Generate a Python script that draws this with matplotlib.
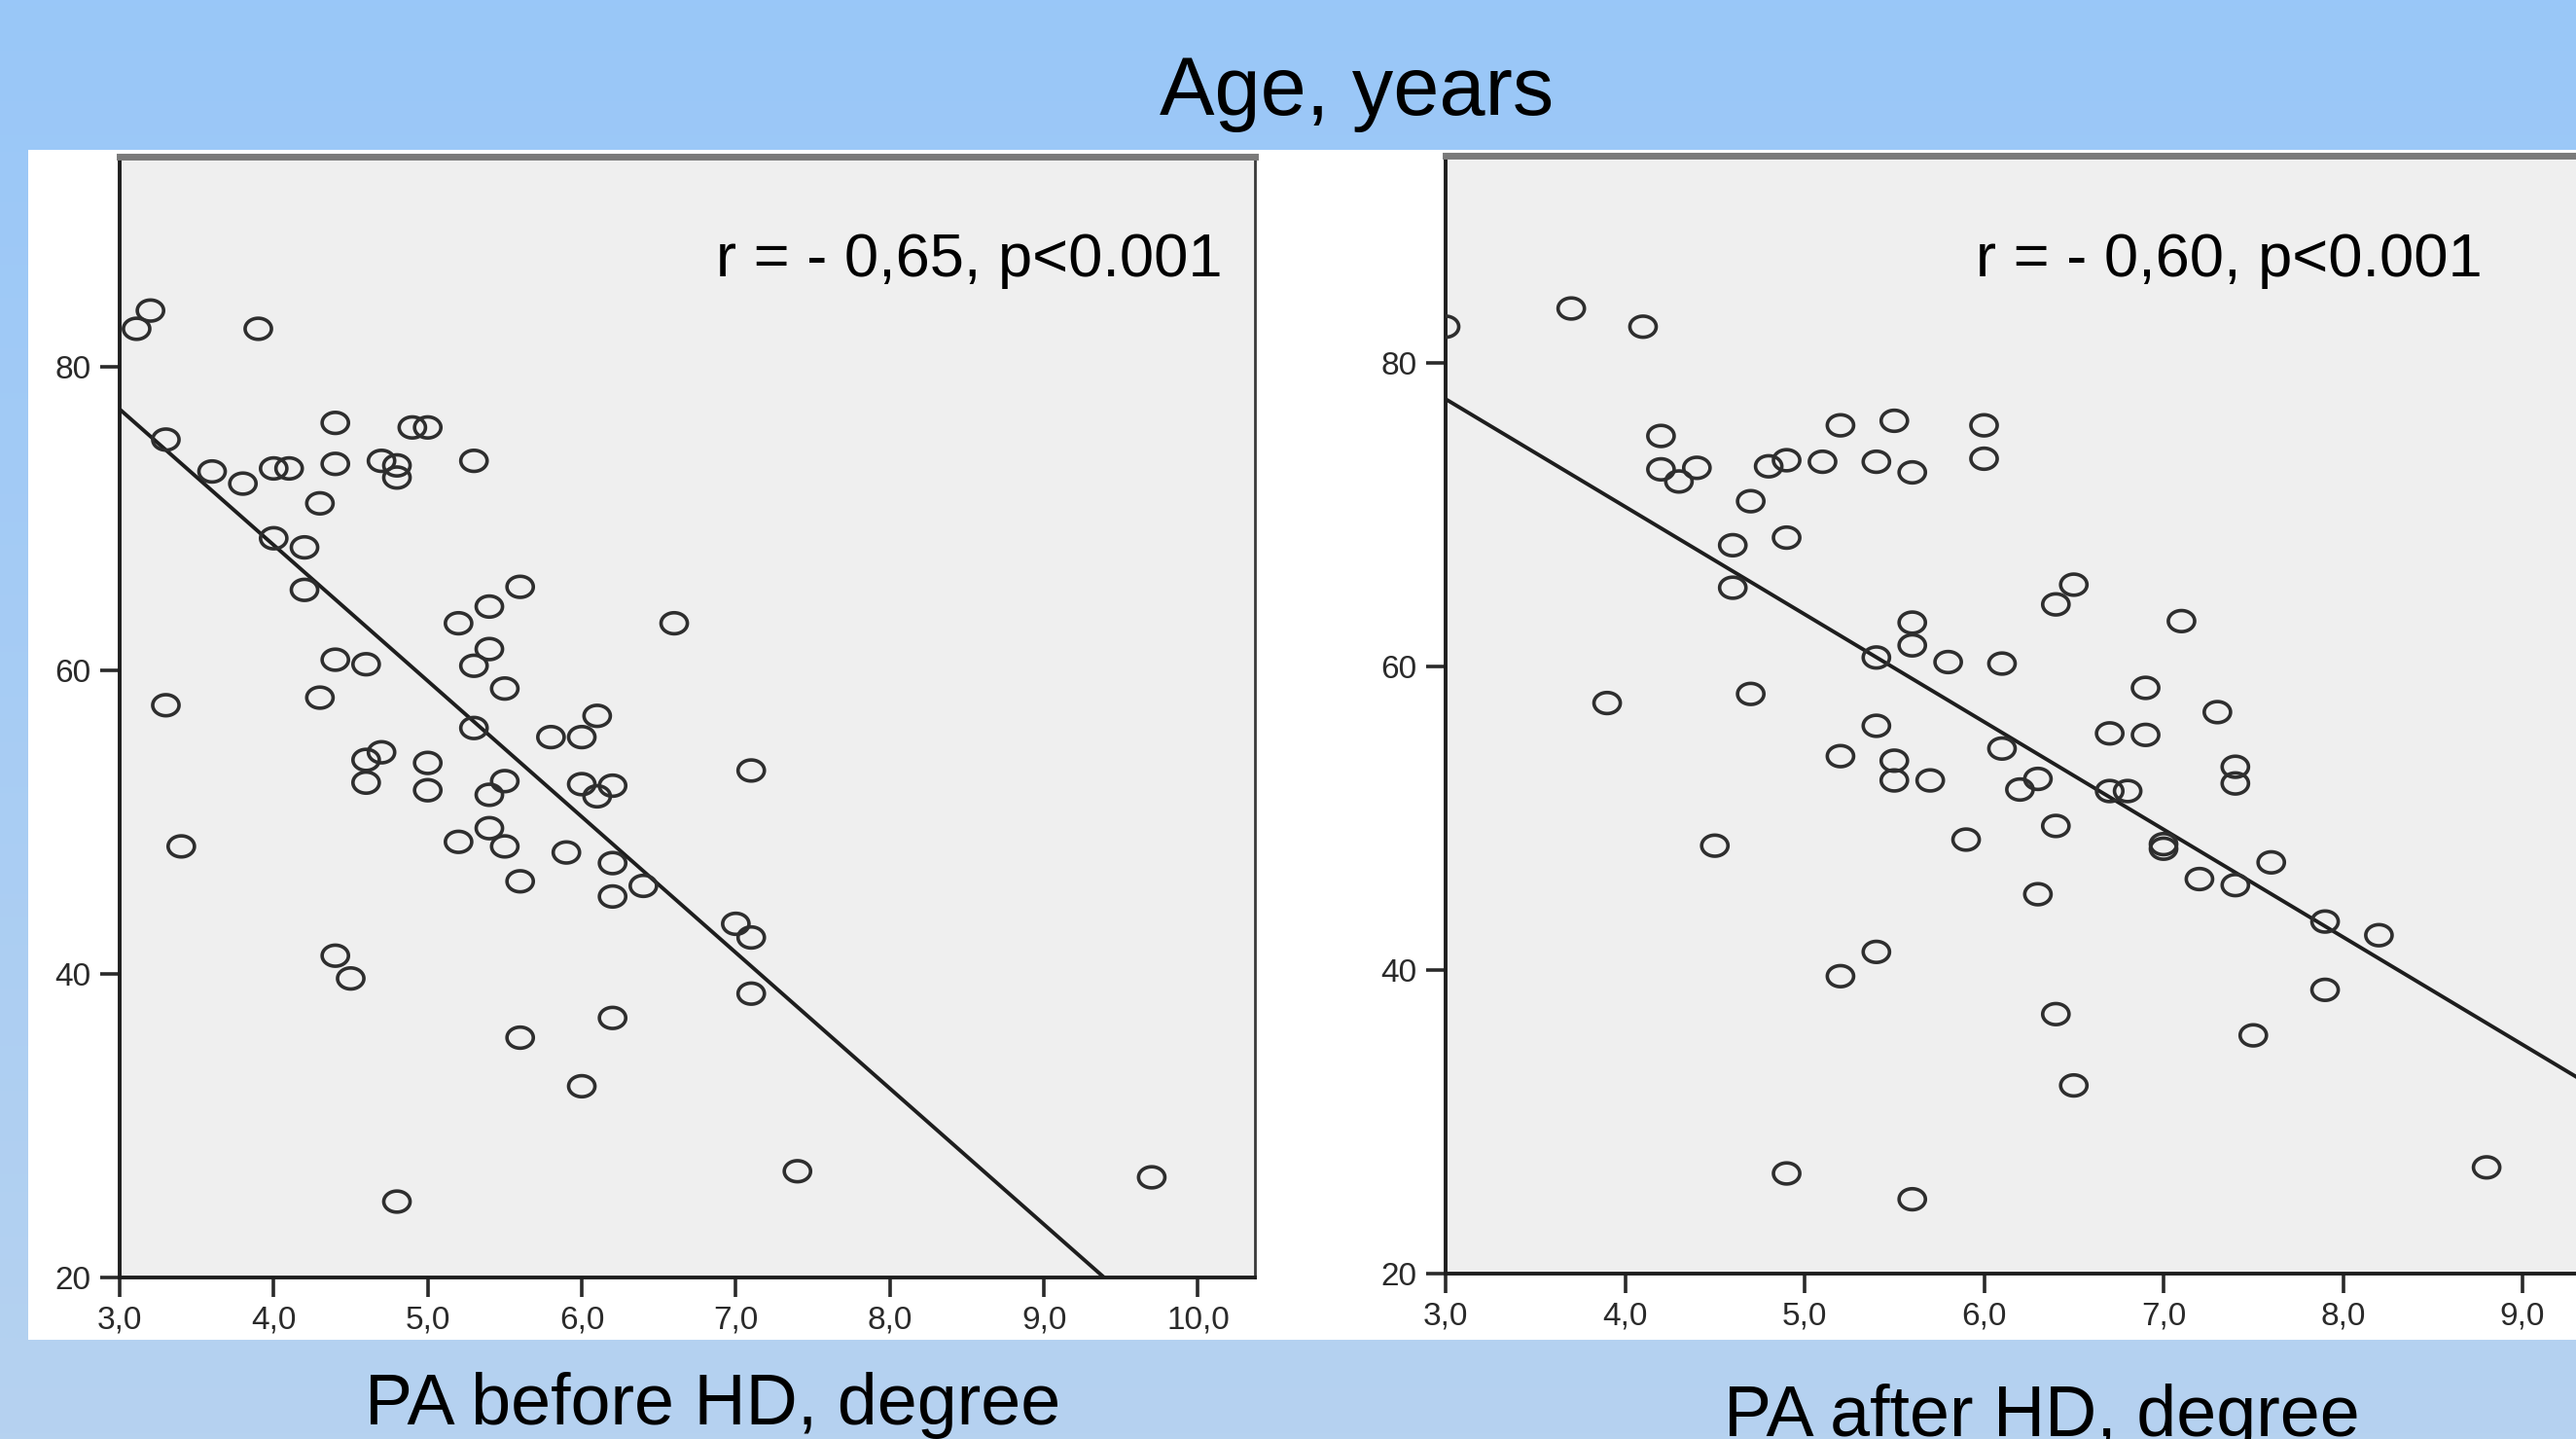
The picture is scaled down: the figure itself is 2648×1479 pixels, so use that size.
import numpy as np
import matplotlib
matplotlib.use("Agg")
import matplotlib.pyplot as plt
from matplotlib.path import Path
from matplotlib.patches import Rectangle

plt.rcParams['font.family'] = ['Liberation Sans', 'DejaVu Sans']

# ---- data ----
pa_before = [3.11, 3.2, 3.9, 3.3, 3.6, 3.8, 4.0, 4.1, 4.4, 4.4, 4.3, 4.7, 4.8, 4.8,
             4.9, 5.0, 5.3, 4.0, 4.2, 4.2, 5.6, 5.4, 5.2, 6.6, 5.4, 5.3, 4.4, 4.6,
             5.5, 4.3, 3.3, 5.3, 5.8, 6.0, 6.1, 4.7, 4.6, 5.0, 4.6, 5.0, 7.1, 5.5,
             5.4, 6.0, 6.2, 6.1, 5.2, 5.4, 5.5, 5.9, 3.4, 6.2, 5.6, 6.4, 6.2, 7.0,
             7.1, 4.4, 4.5, 7.1, 6.2, 5.6, 6.0, 7.4, 9.7, 4.8]
age_before = [82.5, 83.7, 82.5, 75.2, 73.1, 72.3, 73.3, 73.3, 76.3, 73.6, 71.0, 73.8, 73.5, 72.7,
              76.0, 76.0, 73.8, 68.7, 68.1, 65.3, 65.5, 64.2, 63.1, 63.1, 61.4, 60.3, 60.7, 60.4,
              58.8, 58.2, 57.7, 56.2, 55.6, 55.6, 57.0, 54.6, 54.1, 53.9, 52.6, 52.1, 53.4, 52.7,
              51.8, 52.5, 52.4, 51.7, 48.7, 49.6, 48.4, 48.0, 48.4, 47.3, 46.1, 45.8, 45.1, 43.3,
              42.4, 41.2, 39.7, 38.7, 37.1, 35.8, 32.6, 27.0, 26.6, 25.0]

pa_after = [3.0, 3.7, 4.1, 4.2, 4.2, 4.3, 4.4, 4.7, 4.8, 4.9, 5.2, 5.1, 5.4, 5.5,
            5.6, 6.0, 6.0, 4.6, 4.9, 4.6, 6.5, 6.4, 7.1, 5.6, 5.6, 5.4, 5.8, 6.1,
            3.9, 4.7, 6.9, 7.3, 5.4, 6.7, 6.9, 5.2, 6.1, 5.5, 5.5, 5.7, 6.3, 6.2,
            7.4, 7.4, 6.7, 6.8, 6.4, 5.9, 4.5, 7.0, 7.0, 7.6, 7.2, 7.4, 6.3, 7.9,
            8.2, 5.4, 5.2, 7.9, 6.4, 7.5, 6.5, 4.9, 8.8, 5.6]
age_after = [82.4, 83.6, 82.4, 75.2, 73.0, 72.2, 73.1, 70.9, 73.2, 73.6, 75.9, 73.5, 73.5, 76.2,
             72.8, 75.9, 73.7, 68.0, 68.5, 65.2, 65.4, 64.1, 63.0, 62.9, 61.4, 60.6, 60.3, 60.2,
             57.6, 58.2, 58.6, 57.0, 56.1, 55.6, 55.5, 54.1, 54.6, 53.8, 52.5, 52.5, 52.6, 51.9,
             53.4, 52.3, 51.8, 51.8, 49.5, 48.6, 48.2, 48.3, 48.0, 47.1, 46.0, 45.6, 45.0, 43.2,
             42.3, 41.2, 39.6, 38.7, 37.1, 35.7, 32.4, 26.6, 27.0, 24.9]

# regression lines (intercept, slope) as drawn
fit_before = (104.05, -8.95)
fit_after = (98.9, -7.09)

x_ticks_before = [3, 4, 5, 6, 7, 8, 9, 10]
x_ticks_after = [3, 4, 5, 6, 7, 8, 9]
y_ticks = [20, 40, 60, 80]

W, H = 2648, 1479
fig = plt.figure(figsize=(W / 100, H / 100), dpi=100)

# background gradient
bg = fig.add_axes([0, 0, 1, 1], zorder=-10)
top = np.array([153, 199, 248]) / 255
bot = np.array([182, 210, 240]) / 255
t = np.linspace(0, 1, 256)[:, None, None]
grad = top[None, None, :] * (1 - t) + bot[None, None, :] * t
bg.imshow(grad, aspect='auto', extent=[0, 1, 0, 1])
bg.set_axis_off()

# white panel
fig.patches.append(Rectangle((29 / W, 1 - 1377 / H), 1 - 29 / W, (1377 - 154) / H,
                             transform=fig.transFigure, facecolor='white',
                             edgecolor='none', zorder=-5))

# elliptic open marker
th = np.linspace(0, 2 * np.pi, 60)
ell = Path(np.column_stack([np.cos(th), 0.8 * np.sin(th)]), closed=True)


def px_axes(left, top, right, bottom):
    return fig.add_axes([left / W, 1 - bottom / H, (right - left) / W, (bottom - top) / H])


def panel(ax, xs, ys, fit, xlim, ylim, xticks, right_spine=True):
    ax.set_facecolor('#efefef')
    ax.scatter(xs, ys, s=380, marker=ell, facecolors='none', edgecolors='#2e2e2e',
               linewidths=2.6, zorder=3)
    xx = np.array(xlim)
    ax.plot(xx, fit[0] + fit[1] * xx, color='#1e1e1e', lw=2.8, zorder=2)
    ax.set_xlim(*xlim)
    ax.set_ylim(*ylim)
    ax.set_xticks(xticks)
    ax.set_xticklabels([f"{v},0" for v in xticks])
    ax.set_yticks(y_ticks)
    ax.tick_params(direction='out', length=14.5, width=2.6, color='#2a2a2a',
                   labelsize=24, labelcolor='#2a2a2a')
    ax.tick_params(axis='x', pad=6)
    ax.tick_params(axis='y', pad=7)
    for s in ['left', 'bottom']:
        ax.spines[s].set_color('#1e1e1e')
        ax.spines[s].set_linewidth(2.8)
    ax.spines['top'].set_color('#7a7a7a')
    ax.spines['top'].set_linewidth(5)
    if right_spine:
        ax.spines['right'].set_color('#3a3a3a')
        ax.spines['right'].set_linewidth(2.0)
    else:
        ax.spines['right'].set_visible(False)
    return ax


ax1 = px_axes(123, 161, 1290, 1313)
panel(ax1, pa_before, age_before, fit_before, (3.0, 10.37), (20, 93.84), x_ticks_before)
ax2 = px_axes(1486, 160, 2648, 1309)
panel(ax2, pa_after, age_after, fit_after, (3.0, 9.298), (20, 93.67), x_ticks_after,
      right_spine=False)

fig.text(1257 / W, 1 - 284 / H, 'r = - 0,65, p<0.001', fontsize=45.5,
         ha='right', va='baseline')
fig.text(2552 / W, 1 - 284 / H, 'r = - 0,60, p<0.001', fontsize=45.5,
         ha='right', va='baseline')

fig.text(1395 / W, 1 - 118 / H, 'Age, years', fontsize=61, ha='center', va='baseline')
fig.text(733 / W, 1 - 1464 / H, 'PA before HD, degree', fontsize=53, ha='center', va='baseline')
fig.text(2099 / W, 1 - 1476 / H, 'PA after HD, degree', fontsize=53, ha='center', va='baseline')

fig.savefig('out.png', dpi=100)
